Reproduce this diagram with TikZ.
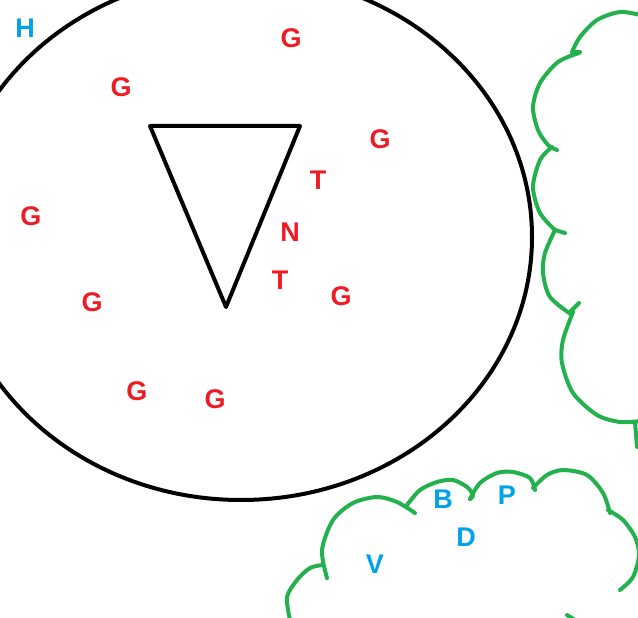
\documentclass[tikz,border=0pt]{standalone}
\usepackage{fontspec}
\setmainfont{Liberation Sans}
\definecolor{pred}{HTML}{ED1C24}
\definecolor{pblue}{HTML}{00A2E8}
\definecolor{pgreen}{HTML}{22B14C}
\begin{document}
\begin{tikzpicture}[x=1pt,y=-1pt,
  lbl/.style={font=\fontsize{27}{27}\selectfont\bfseries, inner sep=0pt},
  rl/.style={lbl, text=pred},
  bl/.style={lbl, text=pblue},
  blk/.style={draw=black, line width=4pt, line join=round},
  cld/.style={draw=pgreen, line width=4pt, line cap=round}]
\useasboundingbox (0,0) rectangle (638,618);
\clip (0,0) rectangle (638,618);
% ellipse and triangle
\draw[blk] (241,237) ellipse [x radius=291, y radius=263];
\draw[blk] (150,126) -- (300,126) -- (226,307) -- cycle;
% right cloud
\draw[cld] plot[smooth] coordinates {(640,15) (620,12) (597,20) (580,37) (572,52)};
\draw[cld] (572,52) -- (580,52);
\draw[cld] plot[smooth] coordinates {(579,53) (558,62) (540,83) (533,107) (538,130) (548,145) (557,150)};
\draw[cld] plot[smooth] coordinates {(552,147) (540,160) (533,187) (540,213) (555,230)};
\draw[cld] (555,230) -- (565,233);
\draw[cld] plot[smooth] coordinates {(555,230) (545,253) (543,273) (550,297) (572,315)};
\draw[cld] (570,312) -- (579,303);
\draw[cld] plot[smooth] coordinates {(573,312) (563,340) (562,363) (573,393) (597,415) (620,422) (640,421)};
\draw[cld] (635,422) -- (637,447);
% bottom cloud
\draw[cld] plot[smooth] coordinates {(290,620) (287,597) (297,580) (310,568) (323,565)};
\draw[cld] plot[smooth] coordinates {(327,578) (322,550) (333,520) (353,503) (377,497) (397,502) (415,513)};
\draw[cld] plot[smooth] coordinates {(407,505) (420,490) (437,482) (453,480) (467,487) (473,495) (470,499)};
\draw[cld] plot[smooth] coordinates {(470,499) (480,483) (497,473) (513,472) (530,478) (535,490)};
\draw[cld] plot[smooth] coordinates {(533,488) (547,475) (563,470) (587,475) (603,493) (610,513)};
\draw[cld] plot[smooth] coordinates {(608,510) (623,520) (635,537) (639,555) (633,577) (620,590)};
\draw[cld] (567,615) -- (575,620);
% labels
\node[bl] (h) at (25,28) {H};
\node[rl] (g1) at (291,38) {G};
\node[rl] (g2) at (121,87) {G};
\node[rl] (g3) at (380,139) {G};
\node[rl] (t1) at (318,180) {T};
\node[rl] (g4) at (31,216) {G};
\node[rl] (n) at (290,232) {N};
\node[rl] (t2) at (280,280) {T};
\node[rl] (g5) at (341,296) {G};
\node[rl] (g6) at (92,302) {G};
\node[rl] (g7) at (137,391) {G};
\node[rl] (g8) at (215,399) {G};
\node[bl] (b) at (443,499) {B};
\node[bl] (p) at (507,495) {P};
\node[bl] (d) at (466,537) {D};
\node[bl] (v) at (375,564) {V};
\end{tikzpicture}
\end{document}
